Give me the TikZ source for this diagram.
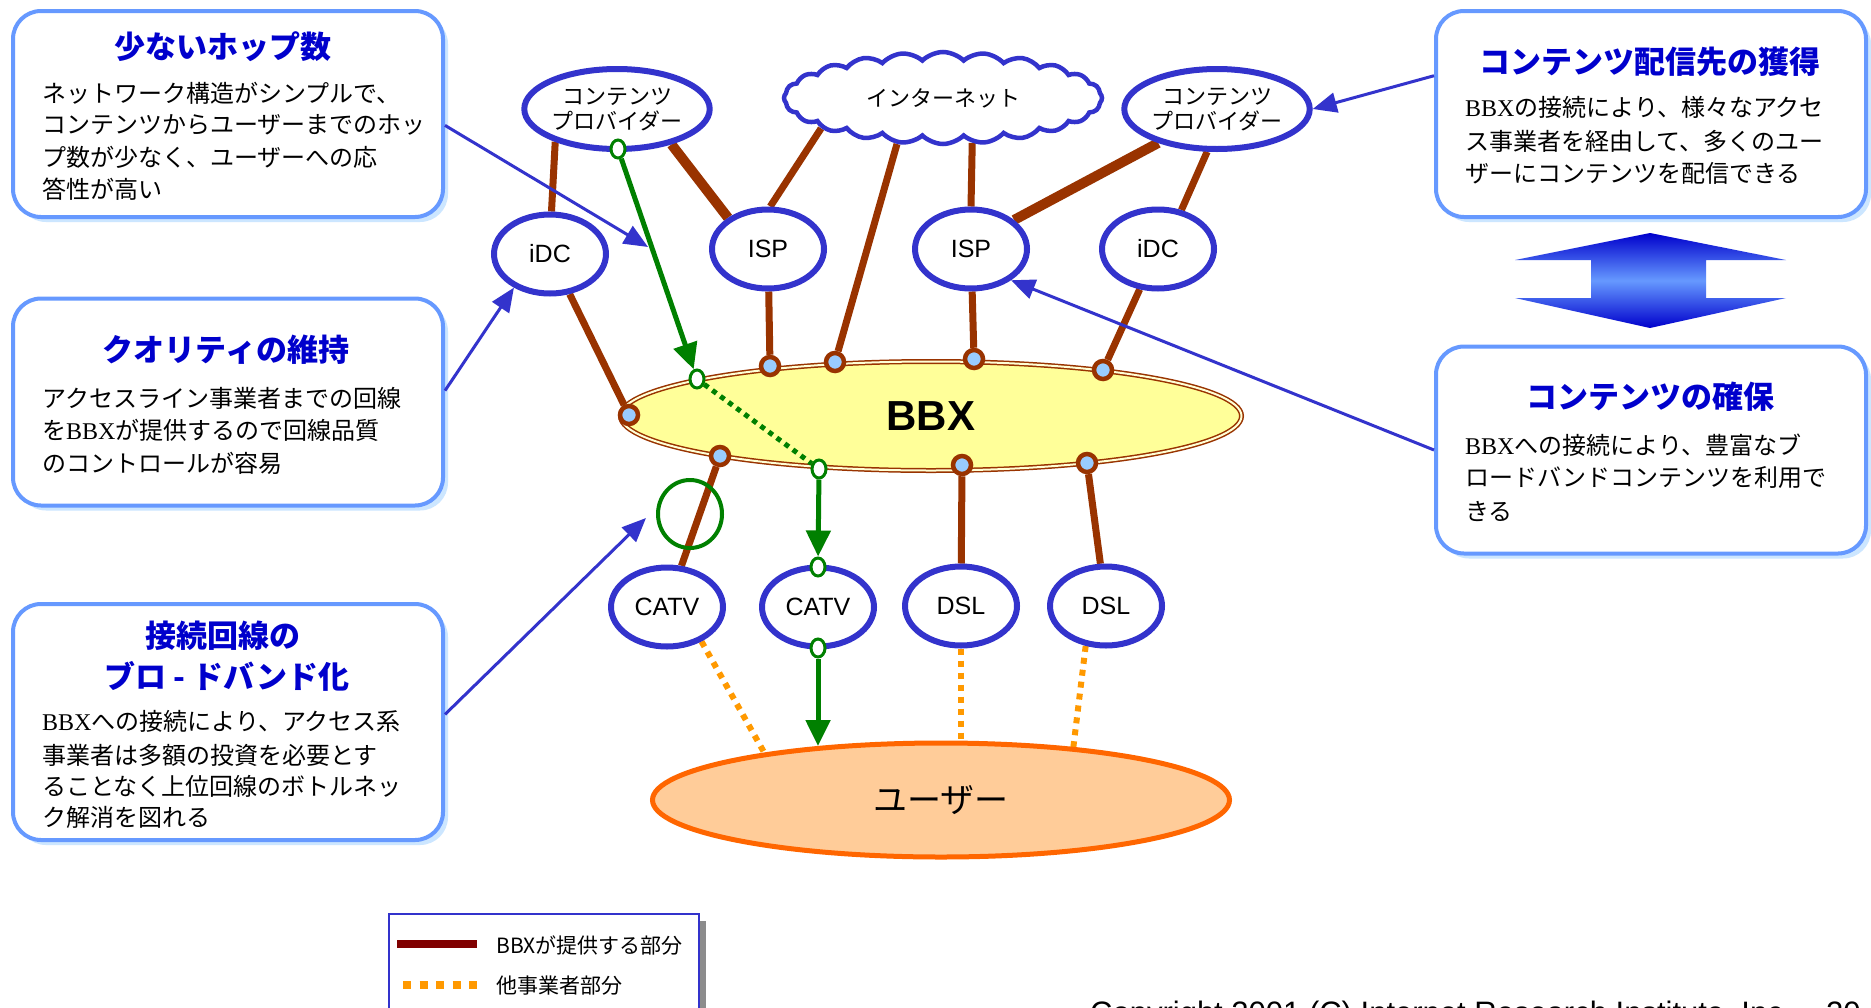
\documentclass[tikz,border=0pt]{standalone}
\usepackage{fontspec}
\setmainfont{Liberation Sans}
\newfontfamily\jp{Noto Sans CJK JP}
\newfontfamily\tms{Liberation Serif}
\usetikzlibrary{shapes.geometric,shapes.symbols,arrows.meta,shadows}

\definecolor{linkbrown}{HTML}{993300}
\definecolor{nodeblue}{HTML}{3333CC}
\definecolor{boxblue}{HTML}{6699FF}
\definecolor{boxshade}{HTML}{CCE6FF}
\definecolor{titleblue}{HTML}{0000CC}
\definecolor{flowgreen}{HTML}{008000}
\definecolor{dotblue}{HTML}{99CCFF}
\definecolor{bbxfill}{HTML}{FFFF99}
\definecolor{userfill}{HTML}{FFCC99}
\definecolor{userline}{HTML}{FF6600}
\definecolor{otherline}{HTML}{FF9900}
\definecolor{legendred}{HTML}{800000}

\pgfdeclarelayer{background}
\pgfsetlayers{background,main}

\begin{document}
\begin{tikzpicture}[x=1pt,y=-1pt,
  infobox/.style={draw=boxblue, line width=4pt, fill=white, rounded corners=28pt,
    minimum width=430pt, inner sep=0pt,
    drop shadow={shadow xshift=5pt, shadow yshift=-5pt, fill=boxshade, opacity=1}},
  boxtitle/.style={inner sep=0pt, text=titleblue, font=\jp\bfseries\fontsize{31}{36}\selectfont},
  boxtext/.style={anchor=west, inner sep=0pt, font=\jp\fontsize{24}{32}\selectfont},
  site/.style={ellipse, draw=nodeblue, line width=6pt, fill=white, inner sep=0pt,
    minimum width=112pt, minimum height=79pt, font=\fontsize{25}{25}\selectfont},
  provider/.style={site, minimum width=160pt, minimum height=80pt, align=center,
    font=\jp\fontsize{22}{25}\selectfont},
  link/.style={draw=linkbrown, line width=7pt},
  heavylink/.style={draw=linkbrown, line width=10pt},
  joint/.style={circle, draw=linkbrown, line width=4.5pt, fill=dotblue, minimum size=18pt, inner sep=0pt},
  port/.style={ellipse, draw=flowgreen, line width=3pt, fill=white, minimum width=14pt, minimum height=18pt, inner sep=0pt},
  flow/.style={draw=flowgreen, line width=5pt, -{Triangle[length=26pt,width=24pt]}},
  flowdots/.style={draw=flowgreen, line width=5pt, dash pattern=on 5pt off 5pt},
  other/.style={draw=otherline, line width=6pt, dash pattern=on 6pt off 6pt},
  callout/.style={draw=nodeblue, line width=3pt, -{Triangle[length=24pt,width=20pt]}}
]
\useasboundingbox (0,0) rectangle (1871,1007);
\clip (0,0) rectangle (1871,1007);

% ---- explanation boxes, left column ----
\node[infobox, minimum height=206pt] (hops) at (228,114) {};
\node[boxtitle] (hopsT) at (223,47) {少ないホップ数};
\node[boxtext] (hops1) at (42,93) {ネットワーク構造がシンプルで、};
\node[boxtext] (hops2) at (42,125) {コンテンツからユーザーまでのホッ};
\node[boxtext] (hops3) at (42,157) {プ数が少なく、ユーザーへの応};
\node[boxtext] (hops4) at (42,189) {答性が高い};

\node[infobox, minimum height=207pt] (quality) at (228,402) {};
\node[boxtitle] (qualityT) at (226,350) {クオリティの維持};
\node[boxtext] (quality1) at (42,398) {アクセスライン事業者までの回線};
\node[boxtext] (quality2) at (42,430) {を{\tms BBX}が提供するので回線品質};
\node[boxtext] (quality3) at (42,463) {のコントロールが容易};

\node[infobox, minimum height=236pt] (broadband) at (228,722) {};
\node[boxtitle] (broadbandT1) at (223,636) {接続回線の};
\node[boxtitle] (broadbandT2) at (227,676) {ブロ - ドバンド化};
\node[boxtext] (broadband1) at (42,721) {{\tms BBX}への接続により、アクセス系};
\node[boxtext] (broadband2) at (42,755) {事業者は多額の投資を必要とす};
\node[boxtext] (broadband3) at (42,786) {ることなく上位回線のボトルネッ};
\node[boxtext] (broadband4) at (42,817) {ク解消を図れる};

% ---- explanation boxes, right column ----
\node[infobox, minimum height=206pt] (reach) at (1651,114) {};
\node[boxtitle] (reachT) at (1650,62) {コンテンツ配信先の獲得};
\node[boxtext] (reach1) at (1465,107) {{\tms BBX}の接続により、様々なアクセ};
\node[boxtext] (reach2) at (1465,141) {ス事業者を経由して、多くのユー};
\node[boxtext] (reach3) at (1465,173) {ザーにコンテンツを配信できる};

\node[infobox, minimum height=207pt] (supply) at (1651,450) {};
\node[boxtitle] (supplyT) at (1650,397) {コンテンツの確保};
\node[boxtext] (supply1) at (1465,445) {{\tms BBX}への接続により、豊富なブ};
\node[boxtext] (supply2) at (1465,478) {ロードバンドコンテンツを利用で};
\node[boxtext] (supply3) at (1465,511) {きる};

% two-way arrow between the right boxes
\shade[top color=titleblue, bottom color=titleblue, middle color=boxblue]
  (1650,233) -- (1786,260) -- (1706,260) -- (1706,298) -- (1786,298) -- (1650,328)
  -- (1515,298) -- (1591,298) -- (1591,260) -- (1515,260) -- cycle;

% ---- network ----
\node[provider] (cpL) at (617,109) {コンテンツ\\プロバイダー};
\node[cloud, cloud puffs=24, cloud puff arc=90, aspect=3.4, draw=nodeblue, line width=4.5pt,
  fill=white, minimum width=318pt, minimum height=92pt, inner sep=0pt,
  font=\jp\fontsize{22}{22}\selectfont] (net) at (943,98) {インターネット};
\node[provider] (cpR) at (1217,109) {コンテンツ\\プロバイダー};

\node[site] (idcL) at (550,254) {iDC};
\node[site] (ispA) at (768,249) {ISP};
\node[site] (ispB) at (971,249) {ISP};
\node[site] (idcR) at (1158,249) {iDC};

\node[ellipse, draw=linkbrown, line width=1.5pt, double=white!60!bbxfill, double distance=2pt,
  fill=bbxfill, minimum width=621pt, minimum height=109pt, inner sep=0pt,
  font=\bfseries\fontsize{42}{42}\selectfont] (bbx) at (931,416) {BBX};

\node[site] (catvA) at (667,607) {CATV};
\node[site] (catvB) at (818,607) {CATV};
\node[site] (dslA) at (961,606) {DSL};
\node[site] (dslB) at (1106,606) {DSL};

\node[ellipse, draw=userline, line width=5pt, fill=userfill, minimum width=577pt,
  minimum height=114pt, inner sep=0pt, font=\jp\fontsize{34}{34}\selectfont] (user) at (941,800) {ユーザー};

\node[ellipse, draw=flowgreen, line width=4pt, minimum width=64pt, minimum height=68pt] (focus) at (690,514) {};

% connection points on BBX
\node[joint] (jIdcL) at (629,415) {};
\node[joint] (jIspA) at (770,366) {};
\node[joint] (jNet) at (835,362) {};
\node[joint] (jIspB) at (974,359) {};
\node[joint] (jIdcR) at (1103,370) {};
\node[joint] (jCatv) at (720,456) {};
\node[joint] (jDslA) at (962,465) {};
\node[joint] (jDslB) at (1087,463) {};

% path of the content flow
\node[port] (pSrc) at (618,149) {};
\node[port] (pIn) at (697,379) {};
\node[port] (pOut) at (819,469) {};
\node[port] (pCatvIn) at (818,567) {};
\node[port] (pCatvOut) at (818,648) {};

\coordinate (uA) at (765,754);
\coordinate (uB) at (961,744);
\coordinate (uC) at (1073,750);
\coordinate (uD) at (818,746);
\coordinate (hopTip) at (648,247);
\coordinate (ringTip) at (646,518);

\begin{pgfonlayer}{background}
  \fill[white] (0,0) rectangle (1871,1007);
  \draw[link] (cpL.208) -- (idcL.88);
  \draw[heavylink] (cpL.-33) -- (ispA.142);
  \draw[link] (net.-166) -- (ispA.87);
  \draw[link] (net.-135) -- (jNet);
  \draw[link] (net.-57) -- (ispB.north);
  \draw[heavylink] (cpR.210) -- (ispB.34);
  \draw[link] (cpR.-103) -- (idcR.59);
  \draw[link] (idcL) -- (jIdcL);
  \draw[link] (ispA) -- (jIspA);
  \draw[link] (ispB) -- (jIspB);
  \draw[link] (idcR) -- (jIdcR);
  \draw[link] (jCatv) -- (catvA);
  \draw[link] (jDslA) -- (dslA);
  \draw[link] (jDslB) -- (dslB);
  \draw[other] (catvA.-45) -- (uA);
  \draw[other] (dslA.south) -- (uB);
  \draw[other] (dslB.-117) -- (uC);
\end{pgfonlayer}

\draw[flow] (pSrc) -- (pIn);
\draw[flowdots] (pIn) -- (pOut);
\draw[flow] (pOut) -- (pCatvIn);
\draw[flow] (pCatvOut) -- (uD);

% callout arrows
\draw[callout] (hops.-3) -- (hopTip);
\draw[callout] (quality.3) -- (idcL.-137);
\draw[callout] (broadband.2) -- (ringTip);
\draw[callout] (reach.170) -- (cpR.east);
\draw[callout] (supply.west) -- (ispB.-38);

% ---- legend ----
\node[draw=nodeblue, line width=2pt, fill=white, minimum width=310pt, minimum height=110pt,
  anchor=north west, inner sep=0pt,
  drop shadow={shadow xshift=7pt, shadow yshift=-7pt, fill=black!45, opacity=1}] (legend) at (388,913) {};
\draw[draw=legendred, line width=8pt] (397,944) -- (477,944);
\draw[draw=otherline, line width=8pt, dash pattern=on 8pt off 8.5pt] (403,985) -- (478,985);
\node[anchor=west, inner sep=0pt, font=\jp\fontsize{21}{21}\selectfont] (legA) at (496,945) {BBXが提供する部分};
\node[anchor=west, inner sep=0pt, font=\jp\fontsize{21}{21}\selectfont] (legB) at (496,986) {他事業者部分};

% footer
\node[anchor=base west, inner sep=0pt, font=\fontsize{31}{31}\selectfont] (copy) at (1090,1023) {Copyright 2001 (C) Internet Research Institute, Inc.};
\node[anchor=base west, inner sep=0pt, font=\fontsize{31}{31}\selectfont] (page) at (1826,1023) {20};
\end{tikzpicture}
\end{document}
